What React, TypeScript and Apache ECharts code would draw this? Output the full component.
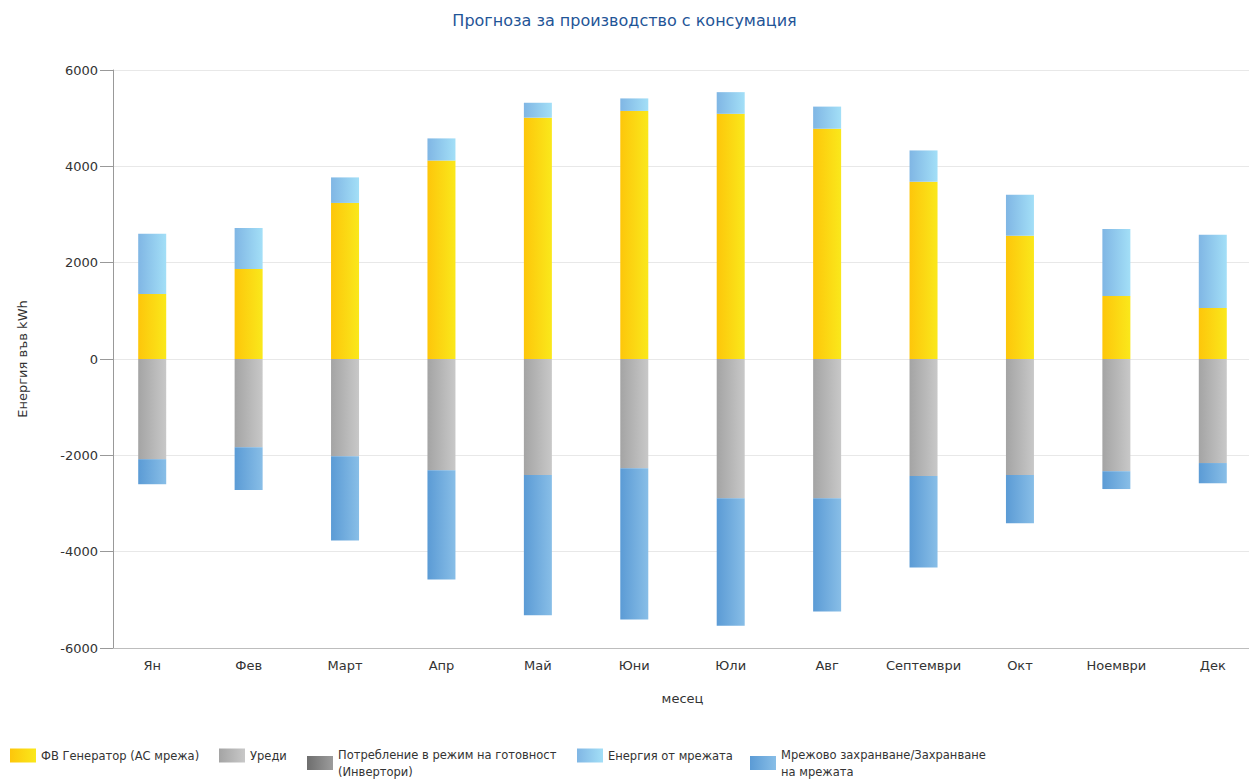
import React, { useEffect, useRef } from "react";
import * as echarts from "echarts";

const months = ["Ян", "Фев", "Март", "Апр", "Май", "Юни", "Юли", "Авг", "Септември", "Окт", "Ноември", "Дек"];
const pvGenerator = [1350, 1870, 3240, 4120, 5010, 5150, 5090, 4780, 3680, 2560, 1310, 1060];
const gridEnergy = [1250, 850, 530, 460, 310, 260, 450, 460, 650, 850, 1390, 1520];
const appliances = [-2080, -1830, -2020, -2310, -2410, -2270, -2890, -2890, -2430, -2410, -2330, -2160];
const standby = [0, 0, 0, 0, 0, 0, 0, 0, 0, 0, 0, 0];
const gridFeedIn = [-520, -890, -1750, -2270, -2910, -3140, -2650, -2350, -1900, -1000, -370, -420];
const yTicks = [-6000, -4000, -2000, 0, 2000, 4000, 6000];

const names = [
  "ФВ Генератор (АС мрежа)",
  "Уреди",
  "Потребление в режим на готовност\n(Инвертори)",
  "Енергия от мрежата",
  "Мрежово захранване/Захранване\nна мрежата",
];

const FONT = "DejaVu Sans";

function grad(a: string, b: string) {
  return new echarts.graphic.LinearGradient(0, 0, 1, 0, [
    { offset: 0, color: a },
    { offset: 1, color: b },
  ]);
}

export default function App() {
  const ref = useRef<HTMLDivElement>(null);
  useEffect(() => {
    document.body.style.margin = "0";
    const chart = echarts.init(ref.current!, null, { renderer: "svg" });
    const colors = [
      grad("#FDC60B", "#FAE81B"),
      grad("#A4A4A4", "#C8C8C8"),
      grad("#6E6E6E", "#9C9C9C"),
      grad("#80B6E4", "#A3DFF7"),
      grad("#5B9BD5", "#88BEE7"),
    ];
    const bar = (i: number, data: number[]) => ({
      name: names[i],
      type: "bar",
      stack: "total",
      barWidth: 28,
      data,
      itemStyle: { color: colors[i] },
    });
    const legendBase = {
      itemWidth: 26,
      itemHeight: 14,
      itemGap: 5,
      padding: 0,
      icon: "rect",
      textStyle: { fontFamily: FONT, fontSize: 11.5, color: "#333", lineHeight: 17 },
    };
    chart.setOption({
      animation: false,
      backgroundColor: "#fff",
      title: {
        text: "Прогноза за производство с консумация",
        left: "center",
        top: 7,
        textStyle: { fontFamily: FONT, fontSize: 16, fontWeight: "normal", color: "#1F5597" },
      },
      legend: [
        { ...legendBase, left: 10, top: 747, data: [names[0]] },
        { ...legendBase, left: 219, top: 747, data: [names[1]] },
        { ...legendBase, left: 307, top: 746, data: [names[2]] },
        { ...legendBase, left: 577, top: 747, data: [names[3]] },
        { ...legendBase, left: 750, top: 746, data: [names[4]] },
      ],
      grid: { left: 104, width: 1157, top: 70, bottom: 131, containLabel: false, outerBoundsMode: "none" },
      xAxis: {
        type: "category",
        data: months,
        name: "месец",
        nameLocation: "middle",
        nameGap: 44,
        nameTextStyle: { fontFamily: FONT, fontSize: 13, color: "#333" },
        axisLine: { onZero: false, lineStyle: { color: "#BDBDBD" } },
        axisTick: { alignWithLabel: true, length: 8, lineStyle: { color: "#AAAAAA" } },
        axisLabel: { interval: 0, fontFamily: FONT, fontSize: 13, color: "#333", margin: 11 },
      },
      yAxis: {
        type: "value",
        min: yTicks[0],
        max: yTicks[yTicks.length - 1],
        interval: yTicks[1] - yTicks[0],
        offset: -9,
        name: "Енергия във kWh",
        nameLocation: "middle",
        nameGap: 84,
        nameTextStyle: { fontFamily: FONT, fontSize: 13, color: "#333" },
        axisLine: { show: true, lineStyle: { color: "#999" } },
        axisTick: { show: true, length: 13, lineStyle: { color: "#999" } },
        axisLabel: { fontFamily: FONT, fontSize: 13, color: "#333", margin: 15, formatter: (v: number) => String(v) },
        splitLine: { lineStyle: { color: "#E8E8E8" } },
      },
      series: [
        bar(0, pvGenerator),
        bar(3, gridEnergy),
        bar(1, appliances),
        bar(2, standby),
        bar(4, gridFeedIn),
      ],
    });
    return () => chart.dispose();
  }, []);
  return <div ref={ref} style={{ width: 1249, height: 779 }} />;
}
